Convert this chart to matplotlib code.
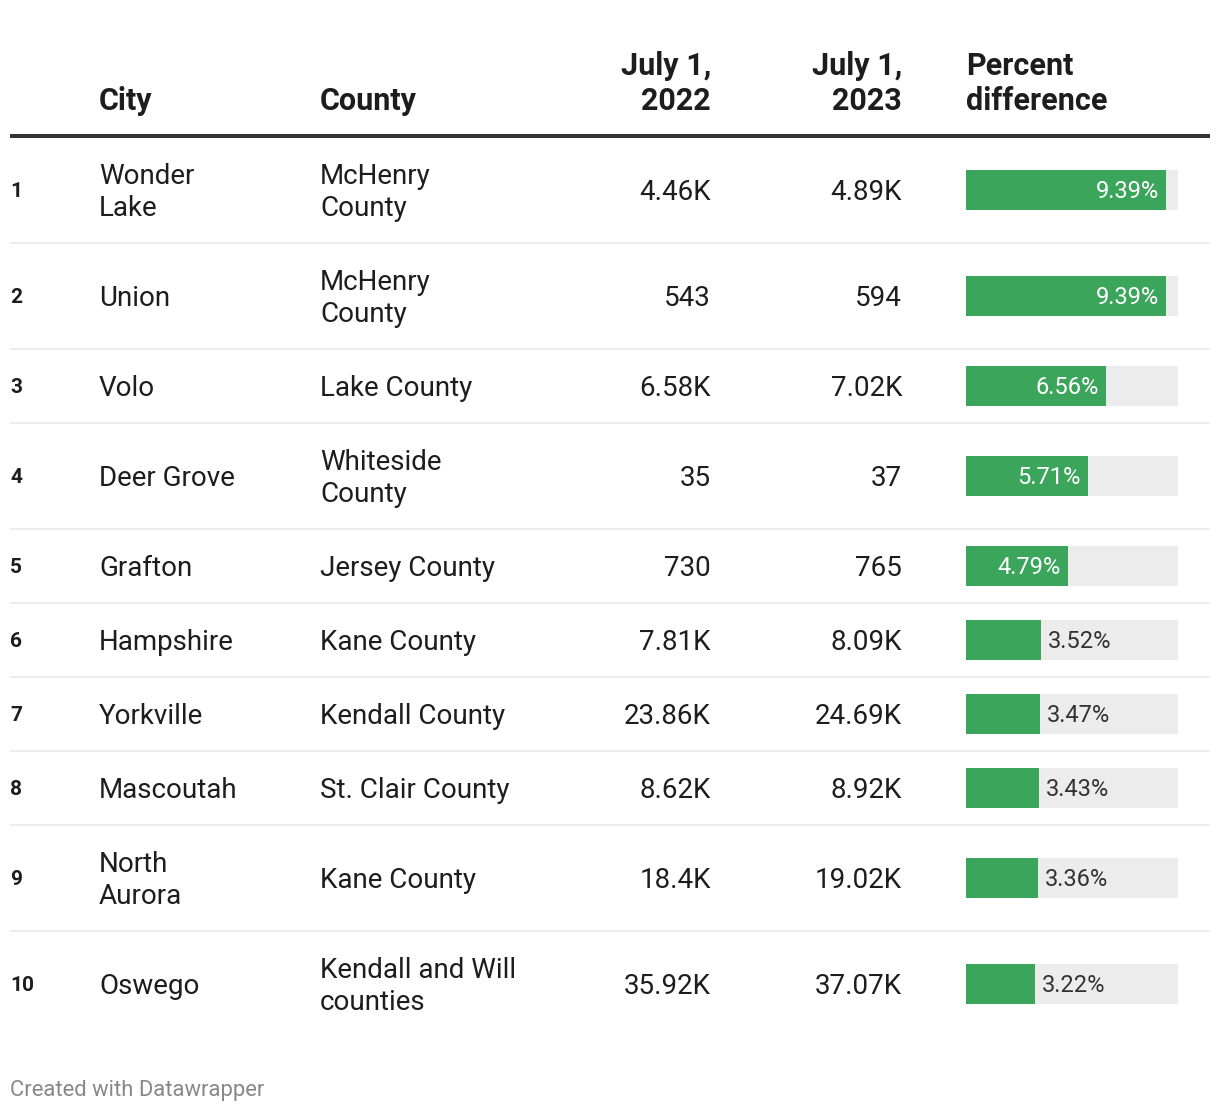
import matplotlib
matplotlib.use("Agg")
import matplotlib.pyplot as plt

plt.rcParams['font.family'] = ['Roboto', 'DejaVu Sans']

# data
ranks = ["1", "2", "3", "4", "5", "6", "7", "8", "9", "10"]
cities = ["Wonder\nLake", "Union", "Volo", "Deer Grove", "Grafton", "Hampshire",
          "Yorkville", "Mascoutah", "North\nAurora", "Oswego"]
counties = ["McHenry\nCounty", "McHenry\nCounty", "Lake County", "Whiteside\nCounty",
            "Jersey County", "Kane County", "Kendall County", "St. Clair County",
            "Kane County", "Kendall and Will\ncounties"]
pop_2022 = ["4.46K", "543", "6.58K", "35", "730", "7.81K", "23.86K", "8.62K", "18.4K", "35.92K"]
pop_2023 = ["4.89K", "594", "7.02K", "37", "765", "8.09K", "24.69K", "8.92K", "19.02K", "37.07K"]
pct_diff = [9.39, 9.39, 6.56, 5.71, 4.79, 3.52, 3.47, 3.43, 3.36, 3.22]
headers = ["City", "County", "July 1,\n2022", "July 1,\n2023", "Percent\ndifference"]

W, H = 1220, 1112
GREEN = "#3ba55c"
TRACK = "#ececec"
TXT = "#1d1d1d"

fig = plt.figure(figsize=(W / 100, H / 100), dpi=100)
ax = fig.add_axes([0, 0, 1, 1])
ax.set_xlim(0, W)
ax.set_ylim(H, 0)
ax.axis("off")

# column anchors (px)
x_rank, x_city, x_county = 10, 99, 320
x_c22, x_c23, x_bar = 711, 902, 966
bar_w_px = 212
bar_max = max(pct_diff) * bar_w_px / 200.0
px = bar_max / bar_w_px  # one pixel in bar units

bax = fig.add_axes([x_bar / W, 0, bar_w_px / W, 1])
bax.set_xlim(0, bar_max)
bax.set_ylim(H, 0)
bax.axis("off")


def half_cap(fs):
    return 0.355 * fs * 100 / 72


def put(x, yc, s, ha="left", fontsize=20, **kw):
    lines = s.split("\n")
    n = len(lines)
    for i, ln in enumerate(lines):
        off = (i - (n - 1) / 2) * 32
        ax.text(x, yc + off + half_cap(fontsize), ln, ha=ha, va="baseline",
                fontsize=fontsize, **kw)


# header
hdr_x = [x_city, x_county, x_c22, x_c23, x_bar]
hdr_ha = ["left", "left", "right", "right", "left"]
for hx, ha, h in zip(hdr_x, hdr_ha, headers):
    lines = h.split("\n")
    for i, ln in enumerate(lines):
        y = 110 - (len(lines) - 1 - i) * 35
        ax.text(hx, y, ln, ha=ha, va="baseline", fontsize=22, fontweight="bold", color=TXT)
ax.plot([10, 1210], [135.5, 135.5], color="#333333", lw=2.9, solid_capstyle="butt")

# rows
y = 137
for i in range(len(ranks)):
    two = "\n" in cities[i] or "\n" in counties[i]
    rh = 106 if two else 74
    yc = y + rh / 2
    put(x_rank, yc, ranks[i], fontsize=15, fontweight="bold", color=TXT)
    put(x_city, yc, cities[i], color=TXT)
    put(x_county, yc, counties[i], color=TXT)
    put(x_c22, yc, pop_2022[i], ha="right", color=TXT)
    put(x_c23, yc, pop_2023[i], ha="right", color=TXT)

    bax.barh(yc, bar_max, height=40, color=TRACK, left=0)
    bax.barh(yc, pct_diff[i], height=40, color=GREEN, left=0)
    lab = f"{pct_diff[i]:.2f}%"
    if pct_diff[i] > 4:
        bax.text(pct_diff[i] - 7 * px, yc + half_cap(17), lab, ha="right", va="baseline",
                 fontsize=17, color="white")
    else:
        bax.text(pct_diff[i] + 7 * px, yc + half_cap(17), lab, ha="left", va="baseline",
                 fontsize=17, color="#333333")

    y += rh
    if i < len(ranks) - 1:
        ax.plot([10, 1210], [y, y], color=TRACK, lw=1.5, solid_capstyle="butt")

ax.text(10, 1096, "Created with Datawrapper", ha="left", va="baseline",
        fontsize=15.8, color="#888888")

fig.savefig("out.png", dpi=100, facecolor="white")
